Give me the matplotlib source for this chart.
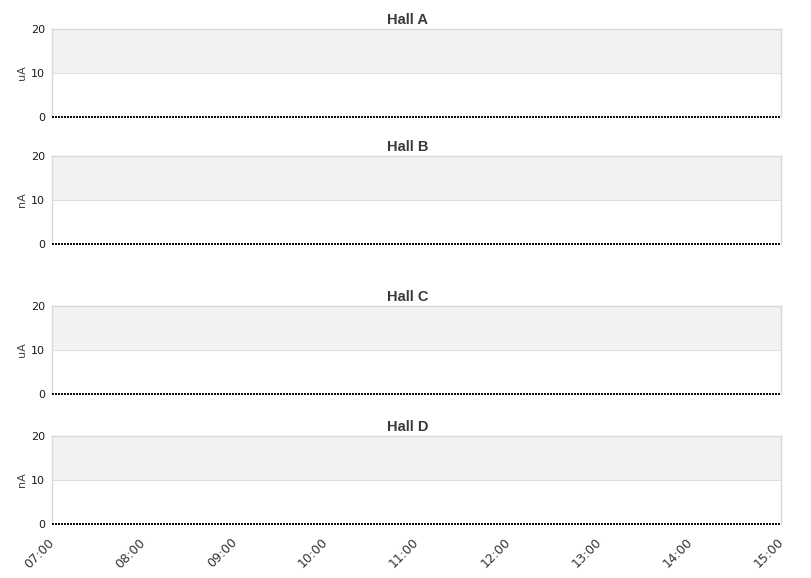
import matplotlib
matplotlib.use("Agg")
import matplotlib.pyplot as plt
import matplotlib.transforms as mtransforms
import pandas as pd

titles = ["Hall A", "Hall B", "Hall C", "Hall D"]
units = ["uA", "nA", "uA", "nA"]
yticks = [0, 10, 20]
times = pd.date_range("2024-01-01 07:00", "2024-01-01 15:00", freq="2min")
values = {t: [0.0] * len(times) for t in titles}
xtick_labels = ["07:00", "08:00", "09:00", "10:00", "11:00", "12:00", "13:00", "14:00", "15:00"]

W, H = 811, 578
fig = plt.figure(figsize=(W / 100, H / 100), dpi=100)
panels = [(29, 117), (156, 244), (306, 394), (436, 524)]
left, right = 52, 781
xticks = pd.date_range("2024-01-01 07:00", "2024-01-01 15:00", freq="1h")

for i, (title, unit, (top, bot)) in enumerate(zip(titles, units, panels)):
    ax = fig.add_axes([left / W, 1 - bot / H, (right - left) / W, (bot - top) / H])
    ax.axhspan(10, 20, color="#f2f2f2", zorder=0, lw=0)
    ax.axhline(10, color="#e0e0e0", lw=0.8, zorder=1)
    ax.plot(times, values[title], color="#111111", lw=1.44, ls=(0, (1.0, 1.0)),
            antialiased=False, zorder=3, clip_on=False)
    ax.set_xlim(times[0], times[-1])
    ax.set_ylim(0, 20)
    ax.set_yticks(yticks)
    ax.tick_params(axis="y", length=0, labelsize=8, colors="#1a1a1a", pad=5)
    for s in ["left", "top", "right"]:
        ax.spines[s].set_color("#d8d8d8")
        ax.spines[s].set_linewidth(1)
    ax.spines["bottom"].set_visible(False)
    ax.set_ylabel(unit, fontsize=8, color="#444444")
    ax.yaxis.set_label_coords((27 - left) / (right - left), 0.5)
    fig.text(408 / W, 1 - (bot - 88 - 5) / H, title, ha="center", va="baseline",
             fontsize=10.5, fontweight="bold", color="#3a3a3a", family="Liberation Sans")
    ax.set_xticks(xticks)
    if i == 3:
        ax.set_xticklabels(xtick_labels, rotation=45, ha="right", va="top",
                           rotation_mode="anchor", fontsize=9, color="#333333")
        ax.tick_params(axis="x", length=0, pad=8.5)
        offset = mtransforms.ScaledTranslation(-4 / 100, 0, fig.dpi_scale_trans)
        for lab in ax.get_xticklabels():
            lab.set_transform(lab.get_transform() + offset)
    else:
        ax.tick_params(axis="x", length=0, labelbottom=False)

fig.savefig("out.png", dpi=100, facecolor="white")
